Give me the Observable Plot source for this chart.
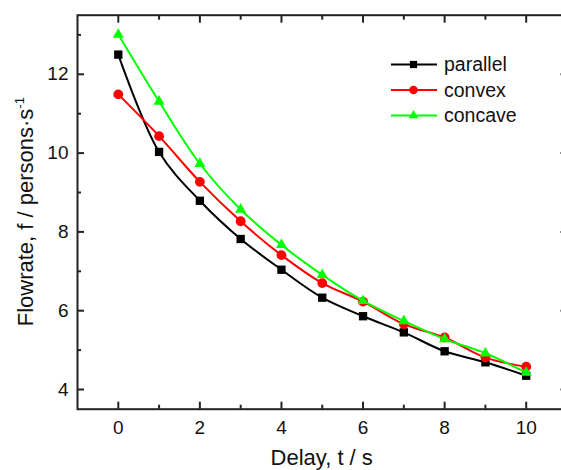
<!DOCTYPE html>
<html><head><meta charset="utf-8">
<script src="https://cdn.jsdelivr.net/npm/d3@7"></script>
<script src="https://cdn.jsdelivr.net/npm/@observablehq/plot@0.6"></script>
<style>
html,body{margin:0;padding:0;background:#fff;overflow:hidden;width:561px;height:470px;}
#chart{position:relative;width:561px;height:470px;overflow:hidden;}
#chart svg{position:absolute;left:0;top:0;max-width:none !important;width:600px !important;height:470px !important;}
</style></head><body><div id="chart"></div>
<script>
const delay = [0,1,2,3,4,5,6,7,8,9,10];
const parallel = [12.5,10.03,8.79,7.82,7.04,6.33,5.86,5.45,4.97,4.69,4.35];
const convex = [11.49,10.43,9.27,8.27,7.41,6.70,6.23,5.66,5.32,4.81,4.58];
const concave = [13.01,11.31,9.73,8.57,7.67,6.91,6.25,5.74,5.28,4.92,4.43];
const seriesNames = ["parallel","convex","concave"];
const seriesColors = ["#000000","#ff0000","#00ff00"];
const seriesSymbols = ["square","circle","triangle"];
const seriesR = [4.7,4.9,4.1];
const xMajor = [0,2,4,6,8,10];
const xMinor = [1,3,5,7,9];
const yMajor = [4,6,8,10,12];
const yMinor = [5,7,9,11,13];
const xTitle = "Delay, t / s";
const yTitle = "Flowrate, f / persons·s";
const yTitleSup = "-1";

const seriesValues = [parallel, convex, concave];
const rows = [];
seriesNames.forEach((name, k) => delay.forEach((t, i) => rows.push({series: name, k, t, f: seriesValues[k][i]})));

const font = "'Liberation Sans', Arial, Helvetica, sans-serif";
const axisColor = "#222";
const empty = () => "";

const marks = [];
// ticks (inward), all four sides
for (const anchor of ["bottom","top"]) {
  marks.push(Plot.axisX(xMajor, {anchor, tickSize: -7, tickFormat: empty, label: null, stroke: axisColor, strokeWidth: 2}));
  marks.push(Plot.axisX(xMinor, {anchor, tickSize: -4, tickFormat: empty, label: null, stroke: axisColor, strokeWidth: 2}));
}
for (const anchor of ["left","right"]) {
  marks.push(Plot.axisY(yMajor, {anchor, tickSize: -7, tickFormat: empty, label: null, stroke: axisColor, strokeWidth: 2}));
  marks.push(Plot.axisY(yMinor, {anchor, tickSize: -4, tickFormat: empty, label: null, stroke: axisColor, strokeWidth: 2}));
}
marks.push(Plot.axisX(xMajor, {anchor: "bottom", tickSize: 0, tickPadding: 11, label: null, fontSize: 19, fill: "#111"}));
marks.push(Plot.axisY(yMajor, {anchor: "left", tickSize: 0, tickPadding: 9, label: null, fontSize: 19, fill: "#111"}));
marks.push(Plot.frame({stroke: axisColor, strokeWidth: 2}));
seriesNames.forEach((name, k) => {
  const d = rows.filter(r => r.k === k);
  marks.push(Plot.line(d, {x: "t", y: "f", stroke: seriesColors[k], strokeWidth: 2, curve: "catmull-rom"}));
  marks.push(Plot.dot(d, {x: "t", y: "f", symbol: seriesSymbols[k], r: seriesR[k], fill: seriesColors[k], stroke: "none"}));
});

const chart = Plot.plot({
  width: 600, height: 470,
  marginLeft: 77, marginRight: 33.5, marginTop: 14.7, marginBottom: 61.3,
  x: {domain: [-1, 11]},
  y: {domain: [3.5, 13.5]},
  style: {fontFamily: font, fontSize: "19px", color: "#111", background: "transparent", overflow: "visible"},
  marks
});
document.getElementById("chart").appendChild(chart);

const svg = d3.select(chart);
// axis titles
svg.append("text").attr("x", 321.7).attr("y", 464.5).attr("text-anchor", "middle")
  .attr("font-family", font).attr("font-size", 22).attr("fill", "#111").text(xTitle);
const yt = svg.append("text").attr("transform", "translate(33,211.7) rotate(-90)").attr("text-anchor", "middle")
  .attr("font-family", font).attr("font-size", 22).attr("fill", "#111");
yt.append("tspan").text(yTitle);
yt.append("tspan").attr("font-size", 13).attr("dy", -9).text(yTitleSup);

// legend
const lg = svg.append("g");
seriesNames.forEach((name, k) => {
  const y = 64.5 + k * 25.5;
  lg.append("line").attr("x1", 391).attr("x2", 437).attr("y1", y).attr("y2", y)
    .attr("stroke", seriesColors[k]).attr("stroke-width", 2);
  lg.append("path").attr("transform", `translate(413.5,${y})`)
    .attr("d", d3.symbol(seriesSymbols[k] === "square" ? d3.symbolSquare : seriesSymbols[k] === "circle" ? d3.symbolCircle : d3.symbolTriangle, Math.PI * seriesR[k] * seriesR[k] * 0.75)())
    .attr("fill", seriesColors[k]);
  lg.append("text").attr("x", 444).attr("y", y).attr("dy", "0.35em").attr("text-anchor", "start")
    .attr("font-family", font).attr("font-size", 19.5).attr("fill", "#111").text(name);
});
</script></body></html>
